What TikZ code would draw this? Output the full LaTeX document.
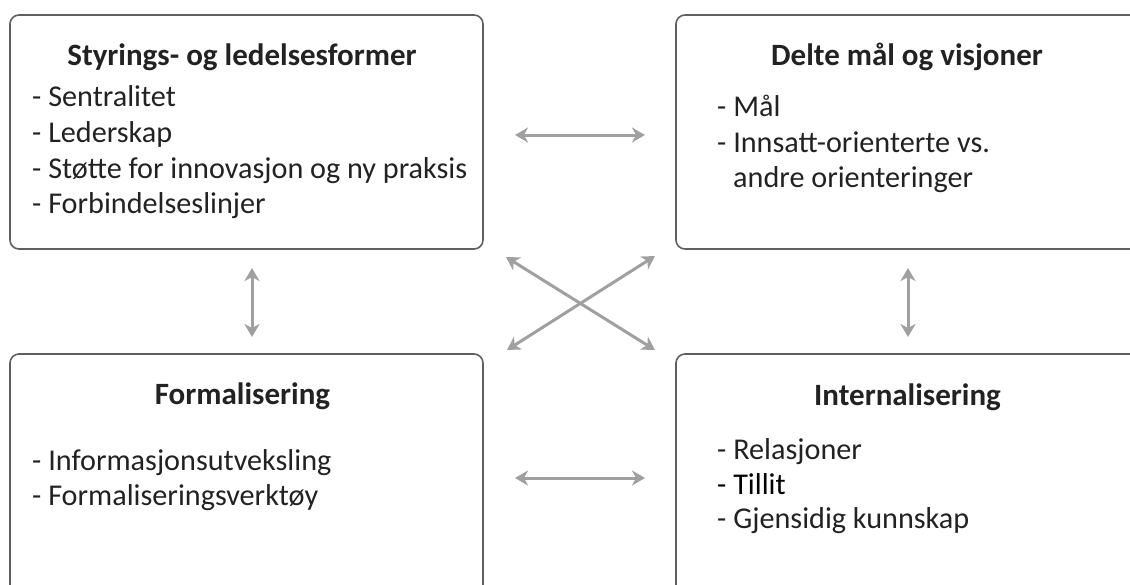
\documentclass[tikz,border=0pt]{standalone}
\usepackage{fontspec}
\setmainfont{Carlito}
\usetikzlibrary{arrows.meta}

\definecolor{boxline}{HTML}{5F5F5F}
\definecolor{arrowgray}{HTML}{A0A0A0}
\definecolor{textgray}{HTML}{222222}

\tikzset{
  area/.style={draw=boxline, line width=1.6pt, rounded corners=9pt,
    minimum width=473pt, minimum height=234pt, anchor=north west,
    inner sep=0pt, outer sep=0pt},
  heading/.style={anchor=base, inner sep=0pt, text=textgray,
    font=\fontsize{31}{37}\selectfont\bfseries},
  item/.style={anchor=base west, inner sep=0pt, text=textgray,
    font=\fontsize{30.2}{35.7}\selectfont},
  link/.style={draw=arrowgray, line width=3pt,
    {Stealth[length=13pt,width=15pt,inset=4pt]}-{Stealth[length=13pt,width=15pt,inset=4pt]}}
}

\begin{document}
\begin{tikzpicture}[x=1pt, y=-1pt, line cap=round, line join=round]

        \useasboundingbox (0,0) rectangle (1130,584);
        \clip (0,0) rectangle (1130,584);

        % the four boxes
        \node[area] (tl) at (10,15) {};
        \node[area] (tr) at (676,15) {};
        \node[area, minimum height=260pt] (bl) at (10,354) {};
        \node[area, minimum height=260pt] (br) at (676,354) {};

        % top left
        \node[heading] (tlh) at ([shift={(232,50)}]tl.north west) {Styrings- og ledelsesformer};
        \node[item] (tl1) at ([shift={(22,91)}]tl.north west) {- Sentralitet};
        \node[item] (tl2) at ([shift={(22,127)}]tl.north west) {- Lederskap};
        \node[item] (tl3) at ([shift={(22,163)}]tl.north west) {- Støtte for innovasjon og ny praksis};
        \node[item] (tl4) at ([shift={(22,198)}]tl.north west) {- Forbindelseslinjer};

        % top right
        \node[heading] (trh) at ([shift={(231,50)}]tr.north west) {Delte mål og visjoner};
        \node[item] (tr1) at ([shift={(41,101)}]tr.north west) {- Mål};
        \node[item] (tr2) at ([shift={(41,137)}]tr.north west) {- Innsatt-orienterte vs.};
        \node[item] (tr3) at ([shift={(57,172)}]tr.north west) {andre orienteringer};

        % bottom left
        \node[heading] (blh) at ([shift={(232.5,50)}]bl.north west) {Formalisering};
        \node[item] (bl1) at ([shift={(22,116)}]bl.north west) {- Informasjonsutveksling};
        \node[item] (bl2) at ([shift={(22,151)}]bl.north west) {- Formaliseringsverktøy};

        % bottom right
        \node[heading] (brh) at ([shift={(231.5,51)}]br.north west) {Internalisering};
        \node[item] (br1) at ([shift={(41,105)}]br.north west) {- Relasjoner};
        \node[item, text=black] (br2) at ([shift={(41,140)}]br.north west) {- Tillit};
        \node[item] (br3) at ([shift={(41,174)}]br.north west) {- Gjensidig kunnskap};

        % arrows between the boxes
        \draw[link] ([shift={(32,3)}]tl.east) -- ([shift={(-31,3)}]tr.west);
        \draw[link] ([shift={(32,-6)}]bl.east) -- ([shift={(-31,-6)}]br.west);
        \draw[link] ([shift={(5.5,19)}]tl.south) -- ([shift={(5.5,-17)}]bl.north);
        \draw[link] ([shift={(-4.5,19)}]tr.south) -- ([shift={(-4.5,-17)}]br.north);
        \draw[link] ([shift={(23,8)}]tl.south east) -- ([shift={(-21,-4)}]br.north west);
        \draw[link] ([shift={(24,-4)}]bl.north east) -- ([shift={(-21,7)}]tr.south west);

\end{tikzpicture}
\end{document}
